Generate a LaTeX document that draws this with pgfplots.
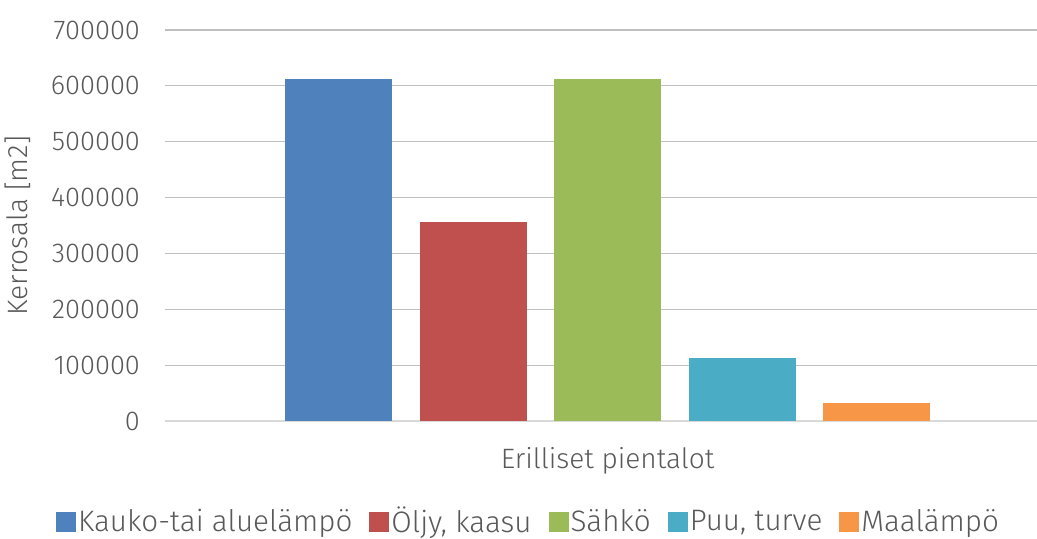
\documentclass[border=0pt]{standalone}
\usepackage{fontspec}
\setmainfont{Fira Sans Light}
\usepackage{pgfplots}
\pgfplotsset{compat=1.18}
\definecolor{cblue}{HTML}{4F81BD}
\definecolor{cred}{HTML}{C0504D}
\definecolor{cgreen}{HTML}{9BBB59}
\definecolor{ccyan}{HTML}{4BACC6}
\definecolor{corange}{HTML}{F79646}
\definecolor{txt}{HTML}{595959}
\definecolor{grid}{HTML}{D9D9D9}
\begin{document}
\begin{tikzpicture}
\useasboundingbox (-82.5pt,-58.5pt) rectangle (436pt,210.5pt);
\begin{axis}[
  at={(0pt,0pt)}, anchor=south west,
  scale only axis, width=436pt, height=195.5pt,
  xmin=-3.29, xmax=3.193, ymin=0, ymax=700000,
  ytick={0,100000,...,700000},
  scaled y ticks=false,
  yticklabel style={/pgf/number format/fixed, /pgf/number format/1000 sep={}, xshift=-9pt, text=txt, font=\fontsize{13.6}{16}\selectfont},
  /pgf/number format/assume math mode=true,
  xtick={0}, xticklabels={Erilliset pientalot},
  xticklabel style={text=txt, font=\fontsize{14}{16}\selectfont, yshift=-9.5pt},
  major tick length=0pt,
  tick style={draw=none},
  xmajorgrids=false, xminorgrids=false,
  ymajorgrids, grid style={grid, line width=0.6pt},
  axis line style={draw=none},
  axis x line*=bottom,
  x axis line style={draw=grid, line width=0.6pt},
  ylabel={Kerrosala [m2]},
  ylabel style={at={(axis description cs:-0.1686,0.5)}, anchor=center, text=txt, font=\fontsize{14}{16}\selectfont},
  ybar, bar width=0.7955, bar shift=0pt,
  legend columns=-1,
  legend style={at={(axis description cs:0.4169,-0.257)}, anchor=center, draw=none, font=\fontsize{14.8}{17}\selectfont, text=txt,
    nodes={inner sep=1pt},
    /tikz/every even column/.append style={column sep=7.5pt}},
  legend image code/.code={\fill[#1] (0pt,-5pt) rectangle (10pt,5pt);},
]
\addplot[fill=cblue, draw=none] coordinates {(-2,612000)};
\addplot[fill=cred, draw=none] coordinates {(-1,357000)};
\addplot[fill=cgreen, draw=none] coordinates {(0,612000)};
\addplot[fill=ccyan, draw=none] coordinates {(1,112000)};
\addplot[fill=corange, draw=none] coordinates {(2,31600)};
\legend{{Kauko-tai aluelämpö}, {Öljy,\ kaasu}, {Sähkö}, {Puu, turve}, {Maalämpö}}
\end{axis}
\end{tikzpicture}
\end{document}
